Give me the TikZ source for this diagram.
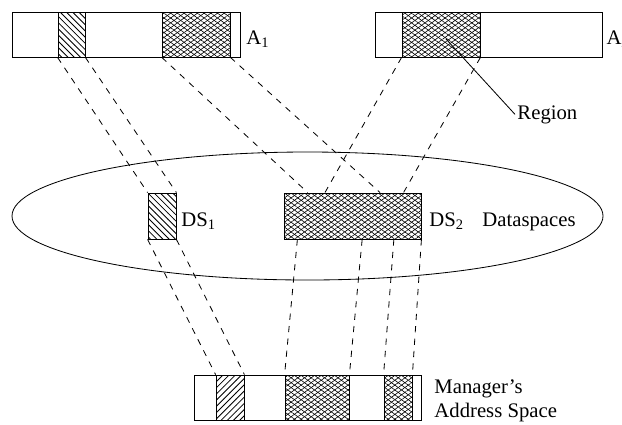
\documentclass[tikz,border=0pt]{standalone}
\usepackage{fontspec}
\setmainfont{Liberation Serif}
\usetikzlibrary{patterns,patterns.meta,shapes.geometric,calc}
\newcommand{\px}{0.483pt}

\begin{document}
\begin{tikzpicture}[x=\px,y=-\px,thin,
    bar node/.style={draw,rectangle,inner sep=0pt,minimum height=45*\px},
    hatch node/.style={bar node,pattern=north west lines},
    mesh node/.style={bar node,pattern={Lines[angle=36,distance=1.9pt,line width=0.3pt]},
      postaction={pattern={Lines[angle=-36,distance=1.9pt,line width=0.3pt]}}},
    label node/.style={anchor=base west,inner sep=1pt}]
  \useasboundingbox (0,0) rectangle (622,424);

  % address spaces A1 and A2
  \node[bar node,minimum width=228*\px] (a1) at (126,34.5) {};
  \node[hatch node,minimum width=27*\px] (a1h) at (71.5,34.5) {};
  \node[mesh node,minimum width=68*\px] (a1x) at (196,34.5) {};
  \node[label node] (a1l) at (244,44) {A\textsubscript{1}};

  \node[bar node,minimum width=227*\px] (a2) at (488.5,34.5) {};
  \node[mesh node,minimum width=78*\px] (a2x) at (441,34.5) {};
  \node[label node] (a2l) at (604,44) {A\textsubscript{2}};

  \coordinate (rpt) at (446,39);
  \node[label node] (region) at (515,119) {Region};
  \draw (rpt) -- (region.west);

  % dataspaces
  \node[draw,ellipse,inner sep=0pt,minimum width=591*\px,minimum height=128*\px] (dsp) at (307.5,216) {};
  \node[hatch node,minimum width=28*\px,minimum height=46*\px] (ds1) at (162,216) {};
  \node[mesh node,minimum width=137*\px,minimum height=46*\px] (ds2) at (352.5,216) {};
  \node[label node] (ds1l) at (179,226) {DS\textsubscript{1}};
  \node[label node] (ds2l) at (427,226) {DS\textsubscript{2}};
  \node[label node] (dspl) at (480,226) {Dataspaces};

  % manager's address space
  \node[bar node,minimum width=227*\px] (mgr) at (307.5,397.5) {};
  \node[bar node,pattern=north east lines,minimum width=28*\px] (mh) at (230,397.5) {};
  \node[mesh node,minimum width=64*\px] (mx1) at (317,397.5) {};
  \node[mesh node,minimum width=28*\px] (mx2) at (398,397.5) {};
  \node[anchor=west,align=left,inner sep=1pt,font=\fontsize{10}{11.5}\selectfont] (mgrl) at (432,401)
    {Manager's\\Address Space};

  % mappings
  \path[dashed] (a1h.south west) edge (ds1.north west);
  \path[dashed] (a1h.south east) edge (ds1.north east);
  \path[dashed] (a1x.south west) edge ($(ds2.north west)!0.175!(ds2.north east)$);
  \path[dashed] (a1x.south east) edge ($(ds2.north west)!0.70!(ds2.north east)$);
  \path[dashed] (a2x.south west) edge ($(ds2.north west)!0.30!(ds2.north east)$);
  \path[dashed] (a2x.south east) edge ($(ds2.north west)!0.87!(ds2.north east)$);

  \path[dashed] (ds1.south west) edge (mh.north west);
  \path[dashed] (ds1.south east) edge (mh.north east);
  \path[dashed] ($(ds2.south west)!0.10!(ds2.south east)$) edge (mx1.north west);
  \path[dashed] ($(ds2.south west)!0.57!(ds2.south east)$) edge (mx1.north east);
  \path[dashed] ($(ds2.south west)!0.80!(ds2.south east)$) edge (mx2.north west);
  \path[dashed] (ds2.south east) edge (mx2.north east);
\end{tikzpicture}
\end{document}
